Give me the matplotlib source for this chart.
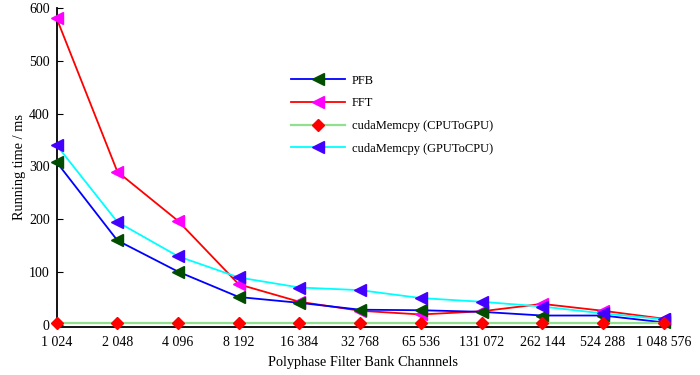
import numpy as np
import matplotlib.pyplot as plt

plt.rcParams['font.family'] = ['Liberation Serif', 'DejaVu Serif']

channels = ['1 024', '2 048', '4 096', '8 192', '16 384', '32 768', '65 536',
            '131 072', '262 144', '524 288', '1 048 576']
pfb = [308, 160, 101, 53, 42, 29, 28, 25, 18, 18, 5]
fft = [580, 290, 197, 77, 44, 27, 20, 26, 40, 27, 12]
cpu_to_gpu = [3, 3, 3, 3, 3, 3, 3, 3, 3, 3, 3]
gpu_to_cpu = [340, 195, 130, 90, 71, 66, 51, 44, 35, 22, 11]

x = np.arange(len(channels))

fig, ax = plt.subplots(figsize=(7, 3.75), dpi=100)
fig.subplots_adjust(left=0.081, right=0.955, top=0.979, bottom=0.129)

ax.plot(x, pfb, color='#0000ff', lw=1.3, marker='<', ms=8.5,
        mfc='#004d00', mec='#004d00', label='PFB', clip_on=False, zorder=4)
ax.plot(x, fft, color='#ff0000', lw=1.3, marker='<', ms=8.5,
        mfc='#ff00ff', mec='#ff00ff', label='FFT', clip_on=False, zorder=3)
ax.plot(x, cpu_to_gpu, color='#90e090', lw=1.6, marker='D', ms=6.5,
        mfc='#ff0000', mec='#ff0000', label='cudaMemcpy (CPUToGPU)',
        clip_on=False, zorder=5)
ax.plot(x, gpu_to_cpu, color='#00ffff', lw=1.3, marker='<', ms=8.5,
        mfc='#4400ff', mec='#4400ff', label='cudaMemcpy (GPUToCPU)',
        clip_on=False, zorder=4)

ax.set_xlim(0, 10.08)
ax.set_ylim(-3, 600)
ax.set_xticks(x)
ax.set_xticklabels(channels)
ax.set_yticks([0, 100, 200, 300, 400, 500, 600])
ax.tick_params(axis='y', direction='in', length=4, labelsize=10, pad=5)
ax.tick_params(axis='x', length=0, labelsize=10, pad=7)
ax.spines['top'].set_visible(False)
ax.spines['right'].set_visible(False)
ax.spines['left'].set_linewidth(1.3)
ax.spines['bottom'].set_linewidth(1.3)

ax.set_xlabel('Polyphase Filter Bank Channnels', fontsize=10.3, labelpad=5)
ax.set_ylabel('Running time / ms', fontsize=10.3, labelpad=2)

ax.legend(loc='upper left', bbox_to_anchor=(0.383, 0.79), frameon=False,
          fontsize=9, handlelength=4.3, handletextpad=0.55,
          labelspacing=0.85, borderpad=0, borderaxespad=0)

fig.savefig('out.png', dpi=100, facecolor='white')
